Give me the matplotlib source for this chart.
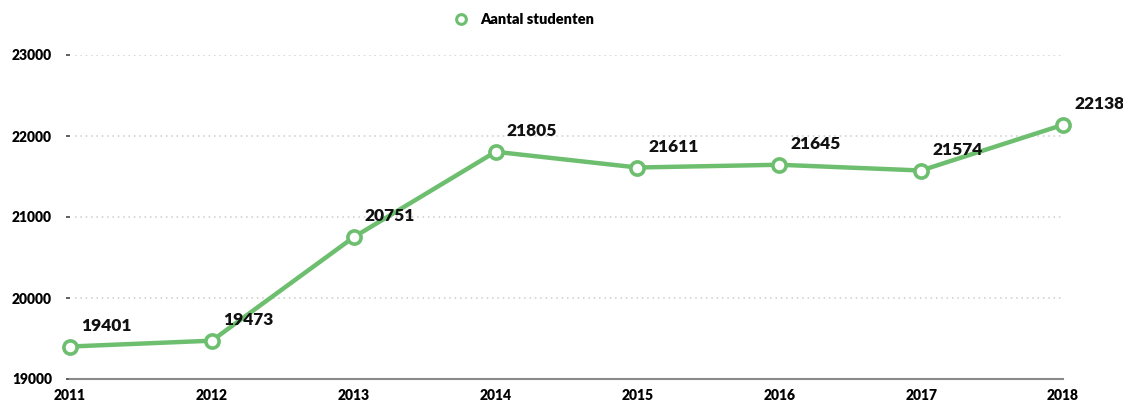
import matplotlib
matplotlib.use("Agg")
import matplotlib.pyplot as plt

years = [2011, 2012, 2013, 2014, 2015, 2016, 2017, 2018]
students = [19401, 19473, 20751, 21805, 21611, 21645, 21574, 22138]
yticks = [19000, 20000, 21000, 22000, 23000]
series_name = "Aantal studenten"

plt.rcParams['font.family'] = ['Lato', 'DejaVu Sans']
green = '#6dbf6f'

W, H = 1123, 403
fig = plt.figure(figsize=(W / 100, H / 100), dpi=100)
ax = fig.add_axes([70 / W, (H - 379) / H, (1063 - 70) / W, (379 - 55) / H])

ax.plot(years, students, color=green, lw=3.2, marker='o', ms=9.5, mfc='white',
        mec=green, mew=2.6, label=series_name, zorder=3, clip_on=False)

for x, y in zip(years, students):
    ax.annotate(str(y), (x, y), xytext=(8, 15), textcoords='offset points',
                ha='left', va='center', fontsize=12.5, fontweight='heavy', color='#111111')

ax.set_xlim(2011, 2018)
ax.set_ylim(19000, 23000)
ax.set_xticks(years)
ax.set_yticks(yticks)
ax.set_xticklabels([str(y) for y in years], fontsize=10, fontweight='heavy')
ax.set_yticklabels([str(y) for y in yticks], fontsize=10, fontweight='heavy')
ax.tick_params(axis='x', length=0, pad=7)
ax.tick_params(axis='y', length=3, width=1.2, color='#444444', pad=10)

for y in yticks[1:]:
    ax.axhline(y, xmin=0.005, color='#cccccc', lw=1.1, ls=(0, (1, 2.5)), zorder=1)

for s in ['top', 'right', 'left']:
    ax.spines[s].set_visible(False)
ax.spines['bottom'].set_color('#8a8a8a')
ax.spines['bottom'].set_linewidth(1.5)

leg = fig.legend(loc='center', bbox_to_anchor=(524 / W, 1 - 20 / H), frameon=False,
                 prop={'weight': 'heavy', 'size': 10.5}, handlelength=1.0, handletextpad=0.8)
for h in leg.legend_handles:
    h.set_linestyle('None')
    h.set_markersize(7)
    h.set_markeredgewidth(2.2)

fig.savefig('out.png', dpi=100)
